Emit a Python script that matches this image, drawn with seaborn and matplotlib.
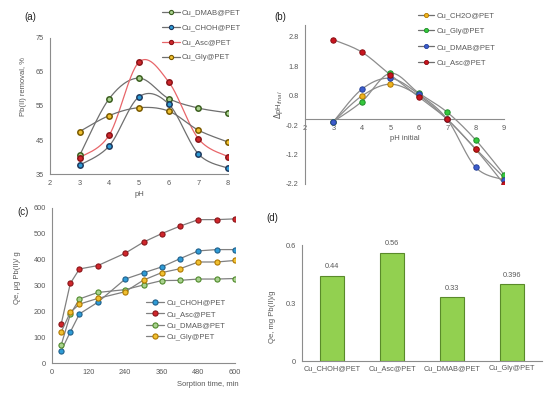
import numpy as np
import pandas as pd
import matplotlib
matplotlib.use("Agg")
import matplotlib.pyplot as plt
from matplotlib.lines import Line2D
import seaborn as sns

sns.set_theme(style="white")
plt.rcParams['font.family'] = ['Liberation Sans', 'DejaVu Sans']

# ---------------- data ----------------
# (a) Pb(II) removal vs pH
ph_a = [3, 4, 5, 6, 7, 8]
a_dmab = [40.5, 57.2, 63.2, 57.2, 54.4, 53.0]
a_choh = [37.6, 43.3, 57.7, 55.6, 40.9, 36.7]
a_asc = [39.8, 46.5, 67.9, 62.1, 45.4, 40.1]
a_gly = [47.5, 52.2, 54.5, 53.5, 47.9, 44.4]

# (b) delta pH vs initial pH
ph_b = [3, 4, 5, 6, 7, 8, 9]
b_ch2o = [-0.08, 0.79, 1.19, 0.80, 0.00, -1.00, -1.98]
b_gly = [-0.08, 0.60, 1.56, 0.89, 0.24, -0.70, -1.88]
b_dmab = [-0.08, 1.02, 1.39, 0.85, 0.00, -1.63, -2.06]
b_asc = [2.70, 2.28, 1.51, 0.76, 0.00, -1.02, -2.20]

# (c) kinetics
t_c = [30, 60, 90, 150, 240, 300, 360, 420, 480, 540, 600]
c_choh = [47, 120, 190, 235, 325, 349, 372, 404, 434, 439, 439]
c_asc = [150, 308, 364, 377, 425, 468, 501, 530, 555, 555, 558]
c_dmab = [69, 188, 248, 273, 284, 302, 319, 320, 325, 325, 327]
c_gly = [120, 196, 228, 250, 276, 321, 350, 365, 391, 391, 397]

# (d) bars
d_cats = ["Cu_CHOH@PET", "Cu_Asc@PET", "Cu_DMAB@PET", "Cu_Gly@PET"]
d_vals = [0.44, 0.56, 0.33, 0.396]
d_labels = ["0.44", "0.56", "0.33", "0.396"]

# ---------------- helpers ----------------
W, H = 550, 396
fig = plt.figure(figsize=(5.5, 3.96), dpi=100)


def axes_px(l, t, r, b):
    return fig.add_axes([l / W, 1 - b / H, (r - l) / W, (b - t) / H])


def smooth(x, y, n=30):
    x = np.asarray(x, float)
    y = np.asarray(y, float)
    px = np.concatenate([[x[0]], x, [x[-1]]])
    py = np.concatenate([[y[0]], y, [y[-1]]])
    xs, ys = [], []
    s = np.linspace(0, 1, n)
    for i in range(1, len(px) - 2):
        p0 = np.array([px[i], py[i]])
        p3 = np.array([px[i + 1], py[i + 1]])
        c1 = p0 + (np.array([px[i + 1], py[i + 1]]) - np.array([px[i - 1], py[i - 1]])) / 6
        c2 = p3 - (np.array([px[i + 2], py[i + 2]]) - np.array([px[i], py[i]])) / 6
        b = ((1 - s) ** 3)[:, None] * p0 + (3 * (1 - s) ** 2 * s)[:, None] * c1 + \
            (3 * (1 - s) * s ** 2)[:, None] * c2 + (s ** 3)[:, None] * p3
        xs.append(b[:, 0]); ys.append(b[:, 1])
    return np.concatenate(xs), np.concatenate(ys)


SPINE = '#8c8c8c'
TICKC = '#595959'
TFS = 5.3
LFS = 5.5


def style(ax):
    for s in ['top', 'right']:
        ax.spines[s].set_visible(False)
    for s in ['left', 'bottom']:
        ax.spines[s].set_color(SPINE)
        ax.spines[s].set_linewidth(0.8)
    ax.tick_params(axis='both', which='both', colors=SPINE, labelcolor=TICKC,
                   labelsize=TFS, length=2.5, width=0.7, pad=2, direction='out')
    ax.grid(False)
    ax.set_facecolor('none')


MS = 3.7
SS = 15

# ---------------- (a) ----------------
axa = axes_px(50, 38, 228, 174)
style(axa)
series_a = [
    ("Cu_DMAB@PET", a_dmab, '#a9d18e', '#3b5e1f', '#6f6f6f'),
    ("Cu_CHOH@PET", a_choh, '#2e9bd6', '#1f3a5f', '#6f6f6f'),
    ("Cu_Asc@PET", a_asc, '#d0262b', '#8a1418', '#e8666a'),
    ("Cu_Gly@PET", a_gly, '#f0c030', '#7a5a00', '#6f6f6f'),
]
handles = []
for name, vals, fc, ec, lc in series_a:
    sx, sy = smooth(ph_a, vals)
    axa.plot(sx, sy, color=lc, lw=0.9, zorder=2)
    sns.scatterplot(x=ph_a, y=vals, ax=axa, color=fc, edgecolor=ec, linewidth=1.1,
                    s=SS, zorder=3, legend=False)
    handles.append(Line2D([], [], color=lc, lw=0.9, marker='o', markersize=3.0,
                          markerfacecolor=fc, markeredgecolor=ec, markeredgewidth=0.8,
                          label=name))
axa.set_xlim(2, 8)
axa.set_ylim(35, 75)
axa.set_xticks(range(2, 9))
axa.set_yticks([35, 45, 55, 65, 75])
axa.set_xlabel("pH", fontsize=LFS, color=TICKC, labelpad=3)
axa.set_ylabel("Pb(II) removal, %", fontsize=LFS, color=TICKC)
axa.yaxis.set_label_coords(-0.13, 0.647)
axa.legend(handles=handles, loc='upper left', bbox_to_anchor=(162 / W, 1 - 9 / H),
           bbox_transform=fig.transFigure, frameon=False, fontsize=LFS,
           handlelength=2.3, handletextpad=0.3, labelspacing=1.0, borderpad=0,
           borderaxespad=0, labelcolor=TICKC)
fig.text(30 / W, 1 - 17.5 / H, "(a)", fontsize=7, ha='center', va='center', color='#222222')

# ---------------- (b) ----------------
axb = axes_px(305, 25, 504, 184)
style(axb)
axb.spines['bottom'].set_position(('data', 0))
series_b = [
    ("Cu_CH2O@PET", b_ch2o, '#f0b41e', '#b07800'),
    ("Cu_Gly@PET", b_gly, '#34c83c', '#1e8c28'),
    ("Cu_DMAB@PET", b_dmab, '#3c5ccc', '#24409a'),
    ("Cu_Asc@PET", b_asc, '#c8141e', '#8a0a10'),
]
handles = []
for name, vals, fc, ec in series_b:
    sx, sy = smooth(ph_b, vals)
    axb.plot(sx, sy, color='#8c8c8c', lw=0.9, zorder=2)
    sns.scatterplot(x=ph_b, y=vals, ax=axb, color=fc, edgecolor=ec, linewidth=0.7,
                    s=SS, zorder=3, legend=False)
    handles.append(Line2D([], [], color='#6f6f6f', lw=0.9, marker='o', markersize=3.0,
                          markerfacecolor=fc, markeredgecolor=ec, markeredgewidth=0.6,
                          label=name))
axb.set_xlim(2, 9)
axb.set_ylim(-2.2, 3.2)
axb.set_xticks(range(2, 10))
axb.set_yticks([-2.2, -1.2, -0.2, 0.8, 1.8, 2.8])
axb.set_yticklabels(["-2.2", "-1.2", "-0.2", "0.8", "1.8", "2.8"])
axb.set_xlabel("pH initial", fontsize=LFS, color=TICKC, labelpad=2)
axb.set_ylabel(r"$\Delta$pH$_{final}$", fontsize=LFS, color=TICKC)
axb.yaxis.set_label_coords(-0.1, 0.5)
axb.legend(handles=handles, loc='upper left', bbox_to_anchor=(418 / W, 1 - 12 / H),
           bbox_transform=fig.transFigure, frameon=False, fontsize=LFS,
           handlelength=2.1, handletextpad=0.3, labelspacing=1.1, borderpad=0,
           borderaxespad=0, labelcolor=TICKC)
fig.text(280 / W, 1 - 17 / H, "(b)", fontsize=7, ha='center', va='center', color='#222222')

# ---------------- (c) ----------------
axc = axes_px(52, 208, 235, 363)
style(axc)
series_c = [
    ("Cu_CHOH@PET", c_choh, '#2e9bd6', '#1f5f8a'),
    ("Cu_Asc@PET", c_asc, '#d0262b', '#8a1418'),
    ("Cu_DMAB@PET", c_dmab, '#a9d18e', '#4f8a2a'),
    ("Cu_Gly@PET", c_gly, '#f0c030', '#b07800'),
]
for name, vals, fc, ec in series_c:
    df = pd.DataFrame({"t": t_c, "q": vals})
    sns.lineplot(data=df, x="t", y="q", ax=axc, color='#808080', lw=0.9,
                 marker='o', markersize=MS, markerfacecolor=fc, markeredgecolor=ec,
                 markeredgewidth=0.8, label=name)
axc.set_xlim(0, 600)
axc.set_ylim(0, 600)
axc.set_xticks(range(0, 601, 120))
axc.set_yticks(range(0, 601, 100))
axc.set_xlabel("")
axc.set_ylabel("Qe, μg Pb(II)/ g", fontsize=LFS, color=TICKC)
axc.yaxis.set_label_coords(-0.17, 0.55)
fig.text(239 / W, 1 - 385 / H, "Sorption time, min", fontsize=LFS, color=TICKC,
         ha='right', va='center')
hc, lc_ = axc.get_legend_handles_labels()
axc.legend(hc, lc_, loc='upper left', bbox_to_anchor=(146 / W, 1 - 299 / H),
           bbox_transform=fig.transFigure, frameon=False, fontsize=LFS,
           handlelength=2.4, handletextpad=0.3, labelspacing=0.55, borderpad=0,
           borderaxespad=0, labelcolor=TICKC)
fig.text(23 / W, 1 - 212 / H, "(c)", fontsize=7, ha='center', va='center', color='#222222')

# ---------------- (d) ----------------
axd = axes_px(302, 245, 542, 361)
style(axd)
dfd = pd.DataFrame({"cat": d_cats, "val": d_vals})
sns.barplot(data=dfd, x="cat", y="val", ax=axd, color='#92d050', width=0.4,
            edgecolor='#5a8a2a', linewidth=0.8, saturation=1)
for p, lab in zip(axd.patches, d_labels):
    axd.annotate(lab, (p.get_x() + p.get_width() / 2, p.get_height()),
                 xytext=(0, 4), textcoords='offset points', ha='center', va='bottom',
                 fontsize=TFS, color=TICKC, annotation_clip=False)
axd.set_xlim(-0.5, 3.5)
axd.set_ylim(0, 0.6)
axd.set_yticks([0, 0.3, 0.6])
axd.set_yticklabels(["0", "0.3", "0.6"])
axd.set_xticks(range(4))
axd.set_xticklabels(d_cats)
axd.set_xticks([0.5, 1.5, 2.5], minor=True)
axd.tick_params(axis='x', which='major', length=0, pad=3)
axd.tick_params(axis='x', which='minor', length=2.5)
axd.set_xlabel("")
axd.set_ylabel("Qe, mg Pb(II)/g", fontsize=LFS, color=TICKC)
axd.yaxis.set_label_coords(-0.11, 0.38)
fig.text(272 / W, 1 - 218 / H, "(d)", fontsize=7, ha='center', va='center', color='#222222')

fig.savefig("out.png", dpi=100, facecolor='white')
